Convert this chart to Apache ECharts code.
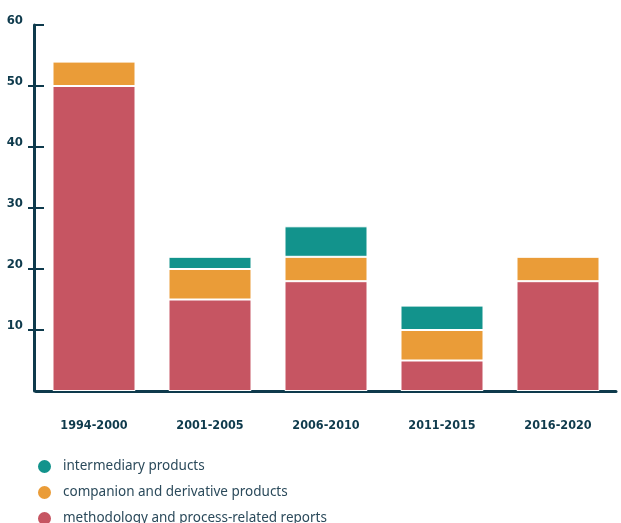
<!DOCTYPE html>
<html><head><meta charset="utf-8">
<script src="https://cdn.jsdelivr.net/npm/echarts@6/dist/echarts.min.js"></script>
<style>html,body{margin:0;padding:0;background:#fff}#c{width:621px;height:523px}</style>
</head><body><div id="c"></div>
<script>
const categories = ['1994-2000','2001-2005','2006-2010','2011-2015','2016-2020'];
const methodology = [50, 15, 18, 5, 18];
const companion = [4, 5, 4, 5, 4];
const intermediary = [0, 2, 5, 4, 0];
const yTicks = [10, 20, 30, 40, 50, 60];
const outerTicks = [10, 20, 30, 40, 50];

const axisColor = '#0e3a4c';
const fontCond = "'Liberation Sans Narrow','DejaVu Sans Condensed',sans-serif";
const nz = a => a.map(v => v === 0 ? '-' : v);

const chart = echarts.init(document.getElementById('c'), null, {renderer:'canvas'});
const barStyle = c => ({color: c, borderColor: '#ffffff', borderWidth: 1});
chart.setOption({
  animation: false,
  grid: {left: 36, right: 5, top: 25, bottom: 132},
  legend: {
    orient: 'vertical', left: 36, top: 458, height: 90, padding: 0,
    itemWidth: 15, itemHeight: 15, itemGap: 9, icon: 'circle',
    data: ['intermediary products','companion and derivative products','methodology and process-related reports'],
    textStyle: {fontFamily: "'Noto Sans',sans-serif", fontSize: 13.5, color: '#2b4a5b', padding:[0,0,0,6]}
  },
  xAxis: {
    type: 'category', data: categories,
    axisLine: {lineStyle: {color: axisColor, width: 3}},
    axisTick: {show: false},
    axisLabel: {fontFamily: fontCond, fontWeight: 'bold', fontSize: 12.5, color: axisColor, margin: 28}
  },
  yAxis: [{
    type: 'value', min: 0, max: 60, interval: 10, offset: 2,
    splitLine: {show: false},
    axisLine: {show: true, lineStyle: {color: axisColor, width: 3}},
    axisTick: {show: true, length: 6, customValues: outerTicks, lineStyle: {color: axisColor, width: 2}},
    axisLabel: {customValues: yTicks, fontFamily: fontCond, fontWeight: 'bold', fontSize: 13, color: axisColor, margin: 11, verticalAlign: 'bottom', lineHeight: 8}
  }, {
    type: 'value', min: 0, max: 60, interval: 10, offset: 2, position: 'left',
    splitLine: {show: false},
    axisLine: {show: false},
    axisTick: {show: true, inside: true, length: 10, customValues: yTicks, lineStyle: {color: axisColor, width: 2}},
    axisLabel: {show: false}
  }],
  series: [
    {name: 'methodology and process-related reports', type: 'bar', stack: 's', barWidth: 83, data: nz(methodology), itemStyle: barStyle('#c65562')},
    {name: 'companion and derivative products', type: 'bar', stack: 's', barWidth: 83, data: nz(companion), itemStyle: barStyle('#ea9c38')},
    {name: 'intermediary products', type: 'bar', stack: 's', barWidth: 83, data: nz(intermediary), itemStyle: barStyle('#12938c')}
  ]
});
</script></body></html>
